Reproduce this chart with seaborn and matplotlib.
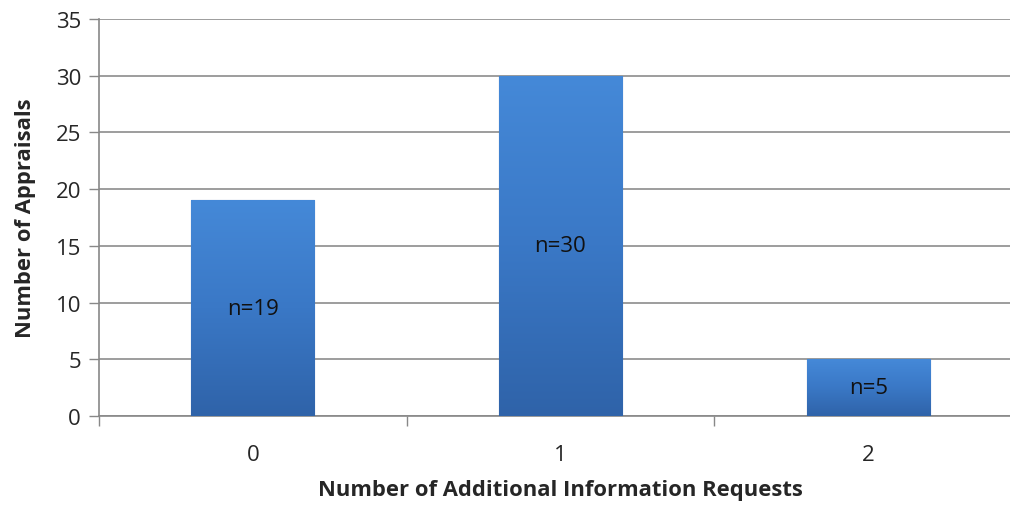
import matplotlib
matplotlib.use("Agg")
import matplotlib.pyplot as plt
import numpy as np
import pandas as pd
import seaborn as sns
from matplotlib.colors import LinearSegmentedColormap

categories = ["0", "1", "2"]
values = [19, 30, 5]
labels = ["n=19", "n=30", "n=5"]
yticks = [0, 5, 10, 15, 20, 25, 30, 35]

sns.set_theme(style="white")
plt.rcParams['font.family'] = ['Open Sans', 'DejaVu Sans']

df = pd.DataFrame({"cat": categories, "val": values})

fig = plt.figure(figsize=(10.10, 5.06), dpi=100)
ax = fig.add_axes([99/1010, 1 - 417/506, (1022 - 99)/1010, (417 - 20)/506])

sns.barplot(data=df, x="cat", y="val", color="#3C7BC9", width=0.40,
            edgecolor="#2A5A99", linewidth=0.8, saturation=1, ax=ax, zorder=3)

cmap = LinearSegmentedColormap.from_list("bar", ["#2F63A9", "#3A78C6", "#4589D8"])
grad = np.linspace(0, 1, 256).reshape(-1, 1)
for p in ax.patches:
    x0, y0 = p.get_x(), p.get_y()
    w, h = p.get_width(), p.get_height()
    im = ax.imshow(grad, extent=[x0, x0 + w, y0, y0 + h], origin="lower", aspect="auto",
                   cmap=cmap, zorder=3.5, interpolation="bicubic")
    im.set_clip_path(p)
    ax.text(x0 + w / 2, y0 + h / 2, labels[int(round(x0 + w / 2))],
            ha="center", va="center", fontsize=16, color="#111111", zorder=5)

ax.set_xlim(-0.5, 2.5)
ax.set_ylim(0, 35)
ax.set_yticks(yticks)
ax.set_yticklabels([str(v) for v in yticks], fontsize=16)
ax.set_xticks([0, 1, 2])
ax.set_xticklabels(categories, fontsize=16)
ax.set_xticks([-0.5, 0.5, 1.5], minor=True)
ax.tick_params(axis="x", which="major", length=0, pad=20)
ax.tick_params(axis="x", which="minor", length=7, width=1, color="#888888", direction="out", bottom=True)
ax.tick_params(axis="y", length=7, width=1, color="#888888", direction="out", left=True, pad=6)

ax.grid(axis="y", color="#8C8C8C", linewidth=1.2, zorder=0)
ax.set_axisbelow(True)
for s in ["top", "right"]:
    ax.spines[s].set_visible(False)
for s in ["left", "bottom"]:
    ax.spines[s].set_color("#888888")
    ax.spines[s].set_linewidth(1.2)

ax.set_xlabel("Number of Additional Information Requests", fontsize=15.8, fontweight="bold", labelpad=10)
ax.set_ylabel("Number of Appraisals", fontsize=15.8, fontweight="bold", labelpad=14)

fig.savefig("out.png", dpi=100)
